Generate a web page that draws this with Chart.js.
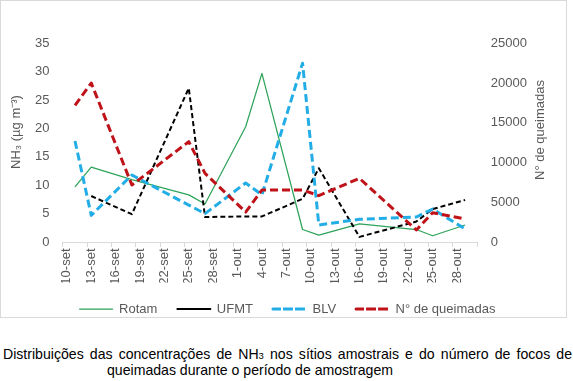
<!DOCTYPE html>
<html>
<head>
<meta charset="utf-8">
<script src="https://cdn.jsdelivr.net/npm/chart.js@4.4.1/dist/chart.umd.min.js"></script>
<style>
  body { margin: 0; background: #fff; font-family: "Liberation Sans", Arial, sans-serif; }
  #frame { position: absolute; left: 0; top: 0; width: 565px; height: 316px; border: 1px solid #d9d9d9; pointer-events: none; }
  #chart { position: absolute; left: 1px; top: 1px; }
  .caption { position: absolute; font-size: 14.1px; line-height: 16px; color: #000; white-space: nowrap; }
  .caption.full { width: 569px; white-space: normal; text-align: justify; text-align-last: justify; }
  .caption .sm { font-size: 9.5px; }
</style>
</head>
<body>
<canvas id="chart" width="565" height="340"></canvas>
<div id="frame"></div>
<div class="caption full" style="left:3px; top:346px">Distribuições das concentrações de NH<span class="sm">3</span> nos sítios amostrais e do número de focos de</div>
<div class="caption" style="left:107px; top:362px">queimadas durante o período de amostragem</div>
<script>
// axis days: 10-set .. 30-out, one category per day
const months = [["set", 10, 30], ["out", 1, 30]];
const allDays = [];
months.forEach(([m, first, last]) => {
  for (let d = first; d <= last; d++) allDays.push(d + "-" + m);
});

const tickLabels = ["10-set", "13-set", "16-set", "19-set", "22-set", "25-set", "28-set",
  "1-out", "4-out", "7-out", "10-out", "13-out", "16-out", "19-out", "22-out", "25-out", "28-out"];

// sampling dates
const sampleDays = ["11-set", "13-set", "18-set", "25-set", "27-set", "2-out", "4-out",
  "9-out", "11-out", "16-out", "23-out", "25-out", "29-out"];

// NH3 (µg m-3)
const rotam = [9.7, 13.2, 11.0, 8.3, 6.7, 20.3, 29.7, 2.2, 1.2, 3.2, 2.2, 1.1, 3.0];
const ufmt = [null, 8.1, 4.9, 27.1, 4.4, 4.5, 4.5, 7.6, 13.0, 0.9, 3.6, 5.8, 7.4];
const blv = [17.8, 4.7, 11.8, 6.5, 5.0, 10.4, 8.3, 31.5, 3.0, 4.0, 4.4, 5.8, 2.3];
// N° de queimadas
const queimadas = [17200, 20000, 7170, 12620, 8640, 3770, 6540, 6540, 5830, 8010, 1510, 3690, 2890];

const textColor = "#595959";
const lineGray = "#d9d9d9";
const font13 = { family: '"Liberation Sans", Arial, sans-serif', size: 13 };

const points = vals => sampleDays
  .map((d, i) => ({ x: d, y: vals[i] }))
  .filter(p => p.y !== null);

const axisTitles = {
  id: "axisTitles",
  afterDraw(chart) {
    const ctx = chart.ctx;
    ctx.save();
    ctx.fillStyle = textColor;
    ctx.font = '13px "Liberation Sans", Arial, sans-serif';
    ctx.textAlign = "center";
    ctx.textBaseline = "middle";
    [[15.5, 131, "NH₃ (µg m⁻³)"], [539, 129, "N° de queimadas"]].forEach(([x, y, t]) => {
      ctx.save();
      ctx.translate(x, y);
      ctx.rotate(-Math.PI / 2);
      ctx.fillText(t, 0, 0);
      ctx.restore();
    });
    ctx.restore();
  }
};

new Chart(document.getElementById("chart"), {
  type: "line",
  data: {
    labels: allDays,
    datasets: [
      {
        label: "Rotam",
        data: points(rotam),
        borderColor: "#2ea35a",
        backgroundColor: "#2ea35a",
        borderWidth: 1.25,
        order: 3
      },
      {
        label: "UFMT",
        data: points(ufmt),
        borderColor: "#000000",
        backgroundColor: "#000000",
        borderWidth: 2,
        borderDash: [5, 3],
        order: 2
      },
      {
        label: "BLV",
        data: points(blv),
        borderColor: "#23ade6",
        backgroundColor: "#23ade6",
        borderWidth: 3,
        borderDash: [8, 4],
        order: 1
      },
      {
        label: "N° de queimadas",
        data: points(queimadas),
        yAxisID: "y1",
        borderColor: "#bf1219",
        backgroundColor: "#bf1219",
        borderWidth: 3,
        borderDash: [8, 4],
        order: 0
      }
    ]
  },
  options: {
    responsive: false,
    animation: false,
    devicePixelRatio: 1,
    layout: { padding: { left: 8, right: 0, top: 42.3, bottom: 15.5 } },
    elements: {
      point: { radius: 0 },
      line: { tension: 0, borderJoinStyle: "round", fill: false }
    },
    plugins: {
      legend: {
        position: "bottom",
        labels: {
          boxWidth: 33,
          boxHeight: 0,
          padding: 20,
          color: textColor,
          font: font13,
          sort: (a, b) => a.datasetIndex - b.datasetIndex
        }
      },
      tooltip: { enabled: false }
    },
    scales: {
      x: {
        type: "category",
        offset: true,
        grid: {
          offset: true,
          drawOnChartArea: false,
          tickLength: 5,
          color: c => (c.index === undefined || tickLabels.includes(allDays[c.index])) ? lineGray : "transparent"
        },
        border: { display: true, color: lineGray },
        ticks: {
          autoSkip: false,
          minRotation: 90,
          maxRotation: 90,
          padding: 1.5,
          color: textColor,
          font: font13,
          callback: (value, index) => tickLabels.includes(allDays[index]) ? allDays[index] : ""
        },
        afterFit: s => { s.height = 40.5; }
      },
      y: {
        position: "left",
        min: 0,
        max: 35,
        grid: { display: false, drawTicks: false },
        border: { display: false },
        ticks: { stepSize: 5, padding: 13.3, color: textColor, font: font13 },
        afterFit: s => { s.width = 61.8 - 8; }
      },
      y1: {
        position: "right",
        min: 0,
        max: 25000,
        grid: { display: false, drawTicks: false },
        border: { display: false },
        ticks: { stepSize: 5000, padding: 13.5, color: textColor, font: font13, callback: v => String(v) },
        afterFit: s => { s.width = 565 - 476.3; }
      }
    }
  },
  plugins: [axisTitles]
});
</script>
</body>
</html>
